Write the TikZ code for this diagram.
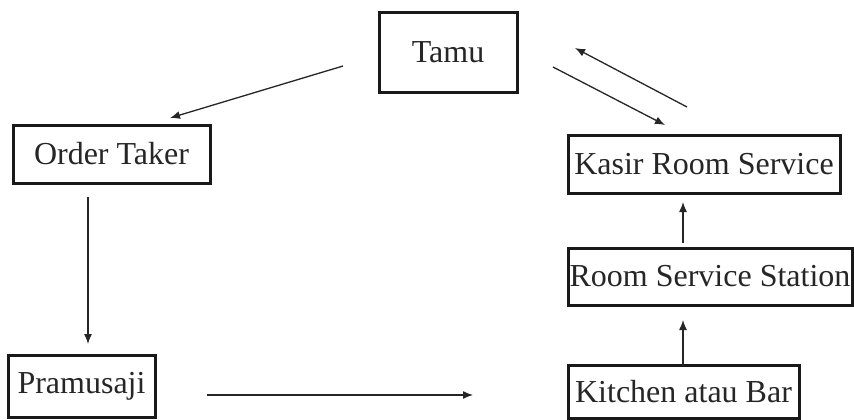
\documentclass[tikz,border=0pt]{standalone}
\usepackage{fontspec}
\setmainfont{Liberation Serif}
\usetikzlibrary{arrows.meta}
\begin{document}
\begin{tikzpicture}[x=1pt,y=-1pt,
  box/.style={draw=black!90,line width=3pt,rectangle,inner sep=0pt,
    font=\fontsize{32}{37}\selectfont,text=black!85},
  conn/.style={line width=1.3pt,draw=black!85,-{Latex[length=10pt,width=8pt]}}]
\useasboundingbox (0,0) rectangle (854,420);
\fill[white] (0,0) rectangle (854,420);
\node[box,minimum width=138pt,minimum height=79pt] (tamu) at (448,52.5) {Tamu};
\node[box,minimum width=197pt,minimum height=58pt] (ot) at (111.5,154) {Order Taker};
\node[box,minimum width=272pt,minimum height=58pt] (ks) at (704,164) {Kasir Room Service};
\node[box,minimum width=284pt,minimum height=57pt] (rss) at (710,276.5) {Room Service Station};
\node[box,minimum width=231pt,minimum height=53pt] (kb) at (683.5,391.5) {Kitchen atau Bar};
\node[box,minimum width=147pt,minimum height=62pt] (pr) at (81.5,386) {Pramusaji};
% free ends
\coordinate (a1) at (343,66);
\coordinate (a2) at (170,118);
\coordinate (b1) at (553,67);
\coordinate (b2) at (665,125);
\coordinate (c1) at (687,107);
\coordinate (c2) at (575,48);
\coordinate (d1) at (88,197);
\coordinate (d2) at (88,344);
\coordinate (e1) at (207,395);
\coordinate (e2) at (473,395);
\draw[conn] (a1) -- (a2);
\draw[conn] (b1) -- (b2);
\draw[conn] (c1) -- (c2);
\draw[conn] (d1) -- (d2);
\draw[conn] (e1) -- (e2);
\draw[conn] (kb.north -| 683,0) ++(0,2) -- (683,320);
\draw[conn] (rss.north -| 683,0) ++(0,-4) -- (683,202);
\end{tikzpicture}
\end{document}
